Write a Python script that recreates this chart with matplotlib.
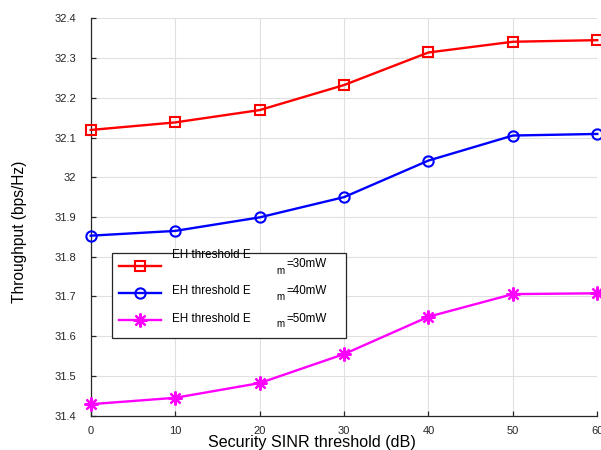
import matplotlib
matplotlib.use("Agg")
import matplotlib.pyplot as plt
from matplotlib.ticker import FuncFormatter

plt.rcParams['font.family'] = ['Liberation Sans', 'DejaVu Sans']

# Data
snr_threshold = [0, 10, 20, 30, 40, 50, 60]
thr_30mW = [32.119, 32.138, 32.169, 32.232, 32.314, 32.341, 32.345]
thr_40mW = [31.853, 31.865, 31.899, 31.950, 32.042, 32.105, 32.109]
thr_50mW = [31.429, 31.445, 31.482, 31.555, 31.649, 31.706, 31.708]
legend_main = ["EH threshold E", "EH threshold E", "EH threshold E"]
legend_sub = ["m", "m", "m"]
legend_val = ["=30mW", "=40mW", "=50mW"]
x_ticks = [0, 10, 20, 30, 40, 50, 60]
y_ticks = [31.4, 31.5, 31.6, 31.7, 31.8, 31.9, 32.0, 32.1, 32.2, 32.3, 32.4]

W, H = 601, 450
fig = plt.figure(figsize=(W / 100, H / 100), dpi=100)
ax = fig.add_axes([90.7 / W, 1 - 415.7 / H, (597.3 - 90.7) / W, (415.7 - 18.3) / H])

dark = '#262626'
ax.plot(snr_threshold, thr_30mW, color='#ff0000', lw=1.7, marker='s', ms=6.6,
        mew=1.5, mfc='none', mec='#ff0000', clip_on=False, zorder=5)
ax.plot(snr_threshold, thr_40mW, color='#0000ff', lw=1.7, marker='o', ms=7.4,
        mew=1.5, mfc='none', mec='#0000ff', clip_on=False, zorder=5)
ax.plot(snr_threshold, thr_50mW, color='#ff00ff', lw=1.7, marker=(8, 2, 0), ms=10,
        mew=1.6, mec='#ff00ff', clip_on=False, zorder=5)

ax.set_xlim(0, 60)
ax.set_ylim(31.4, 32.4)
ax.set_xticks(x_ticks)
ax.set_yticks(y_ticks)
ax.yaxis.set_major_formatter(FuncFormatter(lambda v, p: '%g' % round(v, 1)))
ax.grid(True, color='#e0e0e0', lw=0.8, ls='-')
ax.set_axisbelow(True)
for s in ['top', 'right']:
    ax.spines[s].set_visible(False)
for s in ['left', 'bottom']:
    ax.spines[s].set_color(dark)
    ax.spines[s].set_linewidth(0.9)
ax.tick_params(axis='both', direction='in', length=3.5, width=0.9, color=dark,
               labelcolor=dark, labelsize=8)
ax.tick_params(axis='y', pad=10.2)
ax.tick_params(axis='x', pad=7.5)

# x / y labels
fig.text(312 / W, 1 - 446.7 / H, 'Security SINR threshold (dB)', ha='center',
         va='baseline', fontsize=11.6, color='black')
fig.text(19.3 / W, 1 - 231.7 / H, 'Throughput (bps/Hz)', ha='center', va='center',
         rotation=90, fontsize=11.2, color='black')

# legend (handles drawn by library, label texts placed separately)
leg = ax.legend(['', '', ''], loc='upper left',
                bbox_to_anchor=((111.7 - 90.7) / 506.6, 0.0, (346 - 111.7) / 506.6,
                                (415.7 - 252.7) / 397.4),
                mode='expand', borderaxespad=0, fancybox=False, framealpha=1,
                edgecolor=dark, fontsize=8.4, handlelength=3.6, handleheight=1.8,
                labelspacing=0.87, borderpad=0.66, numpoints=1)
leg.get_frame().set_linewidth(0.9)

main_y = [258.3, 294.0, 322.0]
val_y = [266.7, 294.0, 322.0]
sub_y = [274.0, 300.0, 327.3]
for i in range(3):
    fig.text(171.7 / W, 1 - main_y[i] / H, legend_main[i], ha='left', va='baseline',
             fontsize=8.4, color='black')
    fig.text(276 / W, 1 - sub_y[i] / H, legend_sub[i], ha='left', va='baseline',
             fontsize=7, color='black')
    fig.text(286 / W, 1 - val_y[i] / H, legend_val[i], ha='left', va='baseline',
             fontsize=8.4, color='black')

fig.savefig('out.png', dpi=100)
